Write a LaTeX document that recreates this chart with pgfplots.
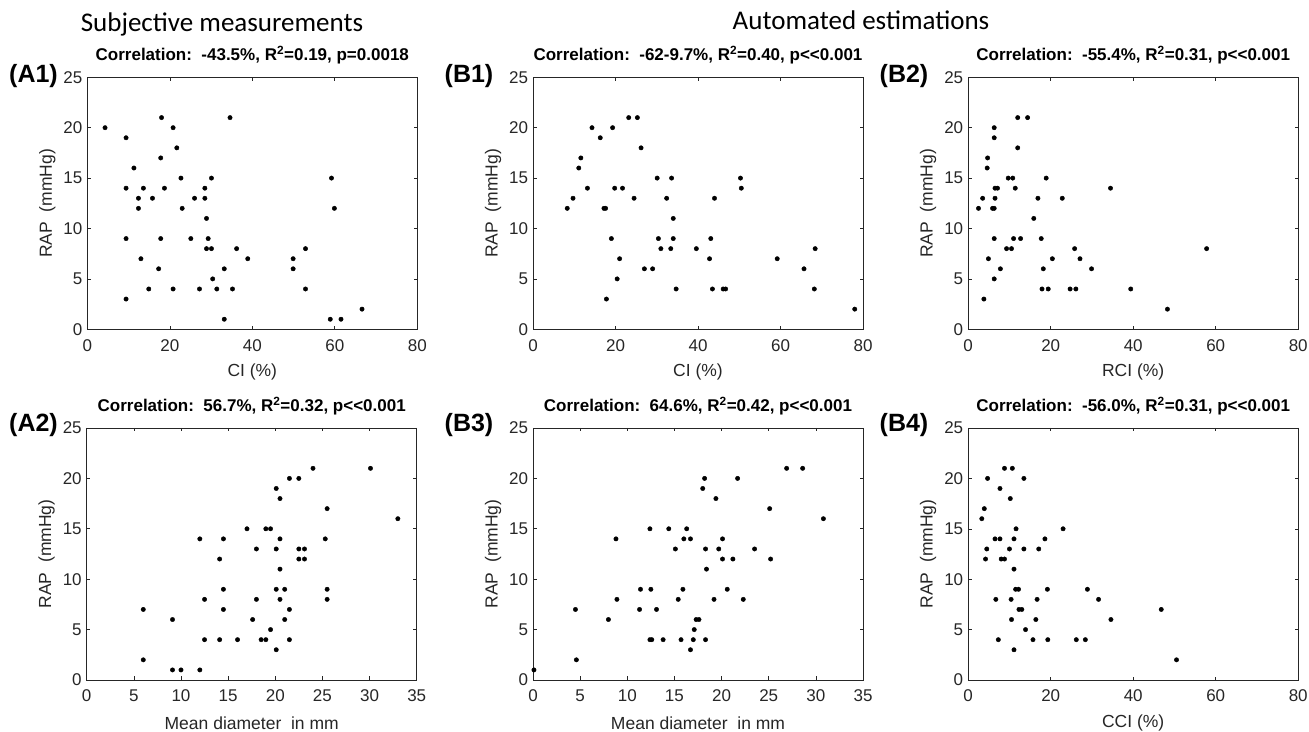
\documentclass[border=0pt]{standalone}
\usepackage{fontspec}
\setmainfont{Liberation Sans}
\newfontfamily\calibri{Carlito}
\usepackage{pgfplots}
\pgfplotsset{compat=1.18}
\definecolor{axgray}{HTML}{262626}
\pgfplotsset{
  panel/.style={
    scale only axis, width=330pt, height=252pt,
    ymin=0, ymax=25, ytick={0,5,10,15,20,25},
    tick align=inside, major tick length=3.5pt,
    axis line style={axgray, line width=0.6pt},
    every tick/.style={axgray, line width=0.6pt},
    tick label style={font=\fontsize{17}{18}\selectfont, text=axgray},
    xticklabel shift=6.5pt, yticklabel shift=1.5pt,
    /pgf/number format/assume math mode=true,
    every axis x label/.style={at={(axis description cs:0.5,0)}, anchor=center, yshift=-43pt, font=\fontsize{17.5}{18}\selectfont, text=axgray},
    every axis y label/.style={at={(axis description cs:0,0.5)}, xshift=-40pt, rotate=90, anchor=center, font=\fontsize{17.5}{18}\selectfont, text=axgray},
    every axis title/.style={at={(axis description cs:0.5,1)}, anchor=center, yshift=22pt, font=\bfseries\fontsize{17}{18}\selectfont},
    ylabel={RAP\ \ (mmHg)},
    clip=false,
  },
  pct/.style={xmin=0, xmax=80, xtick={0,20,40,60,80}},
  mm/.style={xmin=0, xmax=35, xtick={0,5,10,15,20,25,30,35}, xlabel={Mean diameter\ \ in mm}},
  dots/.style={only marks, mark=*, mark size=2.2pt, mark options={draw=black, fill=black}},
}
\newcommand{\pll}{<{}<}
\begin{document}
\begin{tikzpicture}
\useasboundingbox (0,0) rectangle (1309pt,731pt);
% headers
\node[font=\calibri\fontsize{27}{30}\selectfont, anchor=base] at (222pt,699pt) {Subjective measurements};
\node[font=\calibri\fontsize{27}{30}\selectfont, anchor=base] at (861pt,701.5pt) {Automated estimations};
% panel labels
\node[font=\bfseries\fontsize{25}{26}\selectfont] at (33.5pt,655pt) {(A1)};
\node[font=\bfseries\fontsize{25}{26}\selectfont] at (469pt,655pt) {(B1)};
\node[font=\bfseries\fontsize{25}{26}\selectfont] at (904pt,655pt) {(B2)};
\node[font=\bfseries\fontsize{25}{26}\selectfont] at (33.5pt,306pt) {(A2)};
\node[font=\bfseries\fontsize{25}{26}\selectfont] at (469pt,306pt) {(B3)};
\node[font=\bfseries\fontsize{25}{26}\selectfont] at (904pt,306pt) {(B4)};

% A1
\begin{axis}[panel, pct, at={(87.3pt,401.7pt)}, anchor=south west,
  xlabel={CI (\%)},
  title={Correlation:\ \ -43.5\%, R\textsuperscript{2}=0.19,\ p=0.0018}]
\addplot[dots] coordinates {(4.3,20)(9.4,19)(18,21)(20.8,20)(34.6,21)(21.7,18)(17.8,17)(11.3,16)(22.7,15)(30.1,15)(59.2,15)(9.4,14)(13.6,14)(18.7,14)(28.5,14)(12.4,13)(15.8,13)(26,13)(28.5,13)(12.4,12)(23,12)(59.9,12)(28.9,11)(9.4,9)(17.8,9)(25.1,9)(29.3,9)(28.9,8)(30.1,8)(36.2,8)(52.9,8)(13,7)(38.9,7)(49.9,7)(17.3,6)(33.2,6)(49.9,6)(30.4,5)(14.9,4)(20.8,4)(27.2,4)(31.4,4)(35.2,4)(52.9,4)(9.4,3)(66.6,2)(33.2,1)(58.9,1)(61.5,1)};
\end{axis}

% B1
\begin{axis}[panel, pct, at={(533pt,401.7pt)}, anchor=south west,
  xlabel={CI (\%)},
  title={Correlation:\ \ -62-9.7\%, R\textsuperscript{2}=0.40,\ p\pll0.001}]
\addplot[dots] coordinates {(8.3,12)(9.7,13)(11.1,16)(11.6,17)(13.2,14)(14.3,20)(16.3,19)(17.2,12)(17.6,12)(17.8,3)(19,9)(19.3,20)(19.8,14)(20.4,5)(21,7)(21.7,14)(23.2,21)(24.5,13)(25.3,21)(26.2,18)(27,6)(29,6)(30.1,15)(30.4,9)(31,8)(32.4,13)(33.4,8)(33.6,15)(34,11)(34,9)(34.7,4)(39.6,8)(42.8,7)(43.1,9)(43.5,4)(44,13)(46.1,4)(46.7,4)(50.3,15)(50.5,14)(59.2,7)(65.7,6)(68.2,4)(68.4,8)(78,2)};
\end{axis}

% B2
\begin{axis}[panel, pct, at={(968.2pt,401.7pt)}, anchor=south west,
  xlabel={RCI (\%)},
  title={Correlation:\ \ -55.4\%, R\textsuperscript{2}=0.31,\ p\pll0.001}]
\addplot[dots] coordinates {(2.5,12)(3.5,13)(3.8,3)(4.6,16)(4.7,17)(4.9,7)(5.9,12)(6.3,12)(6.3,20)(6.3,19)(6.5,14)(7.1,14)(6.5,13)(6.3,9)(6.3,5)(7.8,6)(9.3,8)(9.7,15)(10.5,8)(10.8,15)(11,9)(11.4,14)(12,21)(12,18)(12.7,9)(14.4,21)(15.9,11)(16.9,13)(17.7,9)(17.9,4)(18.2,6)(18.9,15)(19.4,4)(20.4,7)(22.8,13)(24.7,4)(25.8,8)(26.1,4)(27.1,7)(29.9,6)(34.5,14)(39.4,4)(48.3,2)(57.8,8)};
\end{axis}

% A2
\begin{axis}[panel, mm, at={(86.7pt,51pt)}, anchor=south west,
  title={Correlation:\ \ 56.7\%, R\textsuperscript{2}=0.32,\ p\pll0.001}]
\addplot[dots] coordinates {(6,7)(6,2)(9.1,6)(9.1,1)(10,1)(12,1)(12,14)(12.5,8)(12.5,4)(14.1,12)(14.1,4)(14.5,14)(14.5,9)(14.5,7)(16,4)(17,15)(17.6,6)(18,13)(18,8)(18.5,4)(19,4)(19,15)(19.5,15)(19.5,5)(20.1,19)(20.1,13)(20.1,9)(20.1,3)(20.5,18)(20.5,14)(20.5,11)(20.5,8)(21,9)(21,6)(21.5,20)(21.5,7)(21.5,4)(22.5,20)(22.5,13)(23.1,13)(22.5,12)(23.1,12)(24,21)(25.3,14)(25.5,17)(25.5,9)(25.5,8)(30.1,21)(33,16)};
\end{axis}

% B3
\begin{axis}[panel, mm, at={(533pt,51pt)}, anchor=south west,
  title={Correlation:\ \ 64.6\%, R\textsuperscript{2}=0.42,\ p\pll0.001}]
\addplot[dots] coordinates {(0.1,1)(4.5,7)(4.6,2)(8,6)(8.8,14)(8.9,8)(11.3,7)(11.4,9)(12.4,15)(12.5,9)(12.4,4)(12.6,4)(13.1,7)(13.8,4)(14.4,15)(15.1,13)(15.4,8)(15.7,4)(15.9,9)(16,14)(16.3,15)(16.7,14)(16.7,3)(17,4)(17.1,5)(17.3,6)(17.6,6)(18,19)(18.2,20)(18.3,13)(18.3,4)(18.4,11)(19.2,8)(19.4,18)(19.7,13)(20.1,14)(20.1,12)(20.6,9)(21.2,12)(21.7,20)(22.3,8)(23.5,13)(25.1,17)(25.2,12)(26.9,21)(28.6,21)(30.8,16)};
\end{axis}

% B4
\begin{axis}[panel, pct, at={(968.2pt,51pt)}, anchor=south west,
  xlabel={CCI (\%)},
  title={Correlation:\ \ -56.0\%, R\textsuperscript{2}=0.31,\ p\pll0.001}]
\addplot[dots] coordinates {(3.3,16)(3.9,17)(4.2,12)(4.5,13)(4.7,20)(6.5,14)(6.7,8)(7.3,4)(7.7,19)(7.7,14)(8,12)(8.8,12)(8.8,21)(10,13)(10.2,18)(10.4,8)(10.5,6)(10.7,21)(11.1,14)(11.1,11)(11.1,3)(11.6,15)(11.5,9)(12.2,9)(12.3,7)(13,7)(13.5,20)(13.5,13)(13.9,5)(15.7,4)(16.4,6)(16.7,8)(17.1,13)(18.6,14)(19.2,9)(19.3,4)(23,15)(26.2,4)(28.4,4)(28.9,9)(31.6,8)(34.6,6)(46.8,7)(50.5,2)};
\end{axis}
\end{tikzpicture}
\end{document}
